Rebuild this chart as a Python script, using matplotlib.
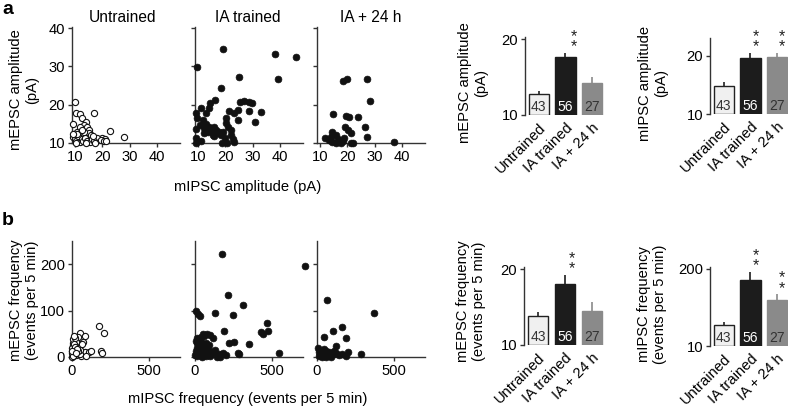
import numpy as np
import matplotlib
matplotlib.use('Agg')
import matplotlib.pyplot as plt

plt.rcParams['font.family'] = ['Liberation Sans', 'DejaVu Sans']
plt.rcParams['font.size'] = 10.6

W, H = 788, 408

groups = ['Untrained', 'IA trained', 'IA + 24 h']
n_cells = [43, 56, 27]

# amplitude scatter (pA): x = mIPSC, y = mEPSC
amp_untr_x = [10.2, 10.4, 11.8, 9.4, 12.6, 14.1, 16.9, 13.3, 14.5, 15.2, 10.8, 12.0, 15.1, 15.8, 23.0,
              27.9, 20.0, 21.0, 18.1, 9.4, 10.0, 10.5, 11.2, 11.8, 12.5, 13.0, 13.8, 14.5, 15.5, 16.2,
              17.0, 17.5, 19.5, 20.5, 21.5, 11.0, 13.5, 12.0, 16.5, 9.5, 10.5, 14.0, 12.8]
amp_untr_y = [20.6, 17.8, 17.5, 15.0, 16.4, 15.6, 17.9, 14.7, 14.3, 13.5, 13.0, 12.4, 12.7, 12.1, 13.1,
              11.6, 11.4, 11.0, 11.2, 11.5, 11.0, 10.5, 11.8, 10.2, 11.0, 10.4, 11.3, 10.6, 10.2, 11.0,
              10.5, 10.0, 10.8, 10.4, 10.5, 12.3, 12.8, 14.2, 11.7, 12.4, 10.0, 10.0, 13.5]
amp_tr_x = [19.3, 38.2, 45.6, 9.8, 24.9, 39.2, 18.5, 16.4, 14.4, 25.4, 27.0, 28.5, 29.8, 11.1, 14.2,
            23.3, 24.6, 21.3, 28.5, 32.9, 9.5, 13.0, 9.8, 11.8, 20.3, 24.6, 30.9, 10.9, 13.0, 14.2,
            14.8, 15.8, 16.6, 9.5, 20.3, 20.9, 22.1, 12.3, 15.4, 18.5, 22.1, 22.7, 9.5, 23.3, 18.7,
            20.7, 9.5, 13.8, 17.3, 19.8, 12.3, 17.6, 13.6, 16.0, 19.3, 11.3]
amp_tr_y = [34.5, 33.2, 32.4, 29.8, 27.3, 26.6, 24.4, 21.2, 20.5, 20.7, 21.0, 20.7, 20.4, 19.2, 19.1,
            17.8, 18.6, 18.4, 18.4, 18.2, 17.9, 17.9, 16.4, 16.0, 16.4, 16.0, 15.6, 14.7, 15.0, 14.1,
            13.4, 14.1, 13.4, 13.6, 15.2, 14.1, 13.4, 12.5, 12.1, 12.1, 12.1, 11.0, 11.2, 10.3, 10.1,
            10.1, 10.1, 13.9, 12.5, 11.3, 14.0, 13.0, 12.9, 11.8, 12.8, 10.5]
amp_24_x = [18.6, 20.0, 27.1, 28.2, 15.0, 19.6, 20.6, 24.1, 19.2, 26.5, 14.5, 21.4, 27.2, 12.0,
            13.2, 14.1, 16.0, 16.6, 18.4, 19.0, 17.8, 16.0, 21.2, 22.0, 37.2, 14.5, 20.3]
amp_24_y = [26.2, 26.7, 26.7, 21.0, 17.5, 17.0, 16.7, 16.7, 14.1, 14.1, 13.0, 12.5, 11.6, 11.3,
            10.8, 11.6, 12.1, 11.0, 10.6, 11.2, 10.0, 10.0, 10.1, 10.0, 10.3, 10.3, 13.4]

# frequency scatter (events per 5 min): x = mIPSC, y = mEPSC
frq_untr_x = [173, 208, 50, 82, 39, 71, 28, 6, 17, 0, 190, 195, 34, 60, 82, 108, 6, 28, 60, 0,
              5, 3, 10, 15, 12, 20, 2, 8, 22, 45, 50, 55, 40, 4, 14, 18, 30, 120, 65, 2, 10, 25, 90]
frq_untr_y = [66, 52, 52, 45, 43, 32, 32, 25, 18, 14, 14, 8, 11, 11, 11, 10, 4, 4, 2, 0,
              30, 20, 10, 8, 5, 15, 8, 38, 40, 20, 6, 15, 12, 2, 28, 22, 18, 12, 28, 12, 45, 8, 3]
frq_tr_x = [177, 711, 214, 310, 5, 21, 32, 128, 246, 464, 186, 476, 427, 438, 53, 75, 96, 37, 117,
            220, 250, 353, 545, 278, 288, 181, 156, 203, 160, 117, 5, 15, 25, 40, 55, 70, 10, 30,
            50, 75, 90, 5, 20, 35, 60, 80, 100, 15, 45, 70, 130, 0, 10, 95, 140, 60]
frq_tr_y = [222, 196, 134, 113, 99, 93, 88, 95, 91, 74, 57, 57, 54, 50, 49, 50, 48, 43, 40,
            31, 32, 27, 9, 9, 6, 9, 7, 4, 0, 9, 35, 30, 38, 33, 28, 30, 20, 22,
            18, 20, 25, 12, 8, 10, 5, 8, 12, 2, 0, 2, 15, 5, 40, 3, 0, 45]
frq_24_x = [65, 372, 101, 161, 47, 191, 122, 284, 198, 15, 36, 58, 26, 79, 101, 122, 144, 165, 187,
            58, 10, 90, 47, 112, 5, 75, 30]
frq_24_y = [122, 95, 57, 64, 43, 40, 24, 7, 11, 11, 7, 13, 4, 4, 7, 9, 4, 6, 2,
            0, 2, 0, 18, 14, 20, 10, 0]

# bar panels: mean and s.e.m.
epsc_amp_mean = [12.8, 17.6, 14.25]
epsc_amp_sem = [0.4, 0.65, 0.8]
ipsc_amp_mean = [14.85, 19.6, 19.8]
ipsc_amp_sem = [0.65, 1.0, 0.8]
epsc_frq_mean = [13.85, 18.1, 14.5]
epsc_frq_sem = [0.55, 1.2, 1.2]
ipsc_frq_mean = [22.3, 127, 58.6]
ipsc_frq_sem = [2.7, 48, 15]
epsc_amp_stars = ['', '**', '']
ipsc_amp_stars = ['', '**', '**']
epsc_frq_stars = ['', '**', '']
ipsc_frq_stars = ['', '**', '**']

bar_face = ['#f0f0f0', '#1c1c1c', '#8a8a8a']
bar_edge = ['#222222', '#1c1c1c', '#8a8a8a']
num_color = ['#333333', 'white', '#333333']
AX = '#333333'

fig = plt.figure(figsize=(W / 100, H / 100), dpi=100)


def px_axes(left, top, right, bottom):
    return fig.add_axes([left / W, 1 - bottom / H, (right - left) / W, (bottom - top) / H])


def ftext(x, y, s, **kw):
    fig.text(x / W, 1 - y / H, s, **kw)


def style_scatter(ax, xlim, ylim, xticks, yticks, ylabels):
    for s in ['top', 'right']:
        ax.spines[s].set_visible(False)
    for s in ['left', 'bottom']:
        ax.spines[s].set_color(AX)
        ax.spines[s].set_linewidth(1)
    ax.set_xlim(xlim)
    ax.set_ylim(ylim)
    ax.set_xticks(xticks)
    ax.set_yticks(yticks)
    if not ylabels:
        ax.set_yticklabels([])
    ax.tick_params(direction='out', length=3, width=1, color=AX, pad=2)


def scatter(ax, x, y, filled):
    if filled:
        ax.scatter(x, y, s=24, c='#111111', edgecolors='#111111', linewidths=0.5, clip_on=False, zorder=3)
    else:
        ax.scatter(x, y, s=20, facecolors='white', edgecolors='#111111', linewidths=0.8, clip_on=False, zorder=3)


# ---- a: amplitude scatter
lefts = [72, 195, 317]
amp_sets = [(amp_untr_x, amp_untr_y), (amp_tr_x, amp_tr_y), (amp_24_x, amp_24_y)]
for i, (xs, ys) in enumerate(amp_sets):
    ax = px_axes(lefts[i], 27, lefts[i] + 108, 143)
    scatter(ax, xs, ys, filled=(i > 0))
    style_scatter(ax, (9, 48.3), (10, 40.3), [10, 20, 30, 40], [10, 20, 30, 40], i == 0)

# ---- b: frequency scatter
frq_sets = [(frq_untr_x, frq_untr_y), (frq_tr_x, frq_tr_y), (frq_24_x, frq_24_y)]
for i, (xs, ys) in enumerate(frq_sets):
    ax = px_axes(lefts[i], 241, lefts[i] + 108, 357)
    scatter(ax, xs, ys, filled=(i > 0))
    style_scatter(ax, (0, 700), (0, 250), [0, 500], [0, 100, 200], i == 0)

titles_x = [123, 248, 371]
for g, tx in zip(groups, titles_x):
    ftext(tx, 18, g, ha='center', va='center', fontsize=11.2)

ftext(24, 90, 'mEPSC amplitude\n(pA)', rotation=90, ha='center', va='center', multialignment='center')
ftext(248, 187, 'mIPSC amplitude (pA)', ha='center', va='center')
ftext(24, 300, 'mEPSC frequency\n(events per 5 min)', rotation=90, ha='center', va='center',
      multialignment='center')
ftext(248, 399, 'mIPSC frequency (events per 5 min)', ha='center', va='center')
ftext(8, 10, 'a', fontsize=14, fontweight='bold', ha='center', va='center')
ftext(8, 221, 'b', fontsize=14, fontweight='bold', ha='center', va='center')


def bar_panel(rect, means, sems, stars, ylim, yticks, ylabel, label_xy, log=False, star_dx=0.27):
    ax = px_axes(*rect)
    x = np.arange(len(groups))
    if log:
        ax.set_yscale('log')
    ax.bar(x, np.array(means) - 10, bottom=10, width=0.77, color=bar_face, edgecolor=bar_edge,
           linewidth=1, zorder=2)
    tops = np.array(means) + np.array(sems)
    ax.vlines(x, means, tops, colors=bar_edge, linewidth=1.2, zorder=1)
    for i in x:
        ax.annotate(str(n_cells[i]), xy=(i, 10), xytext=(0, 1), textcoords='offset points',
                    ha='center', va='bottom', color=num_color[i], fontsize=10)
        if stars[i]:
            ax.annotate(stars[i][0] + '\n' + stars[i][1], xy=(i + star_dx, tops[i]), xytext=(0, -1),
                        textcoords='offset points', ha='center', va='bottom', fontsize=11.5,
                        linespacing=0.6, color='#222222', annotation_clip=False)
    ax.set_xlim(-0.52, 2.45)
    ax.set_ylim(ylim)
    ax.set_yticks(yticks)
    ax.set_yticklabels([str(t) for t in yticks])
    ax.minorticks_off()
    ax.set_xticks(x)
    ax.set_xticklabels(groups, rotation=45, ha='right', rotation_mode='anchor')
    for s in ['top', 'right', 'bottom']:
        ax.spines[s].set_visible(False)
    ax.spines['left'].set_color(AX)
    ax.spines['left'].set_linewidth(1)
    ax.tick_params(axis='y', direction='out', length=3, width=1, color=AX, pad=2)
    ax.tick_params(axis='x', length=0, pad=4)
    ftext(label_xy[0], label_xy[1], ylabel, rotation=90, ha='center', va='center', multialignment='center')
    return ax


bar_panel((525, 37, 604, 115), epsc_amp_mean, epsc_amp_sem, epsc_amp_stars, (10, 20.3), [10, 20],
          'mEPSC amplitude\n(pA)', (473, 83), star_dx=0.32)
bar_panel((710, 38, 789, 114), ipsc_amp_mean, ipsc_amp_sem, ipsc_amp_stars, (10, 23.1), [10, 20],
          'mIPSC amplitude\n(pA)', (653, 83), star_dx=0.2)
bar_panel((524, 267, 604, 345), epsc_frq_mean, epsc_frq_sem, epsc_frq_stars, (10, 20.3), [10, 20],
          'mEPSC frequency\n(events per 5 min)', (471, 301), star_dx=0.27)
bar_panel((710, 267, 789, 346), ipsc_frq_mean, ipsc_frq_sem, ipsc_frq_stars, (10, 213), [10, 200],
          'mIPSC frequency\n(events per 5 min)', (652, 304), log=True, star_dx=0.2)

fig.savefig('out.png', dpi=100)
